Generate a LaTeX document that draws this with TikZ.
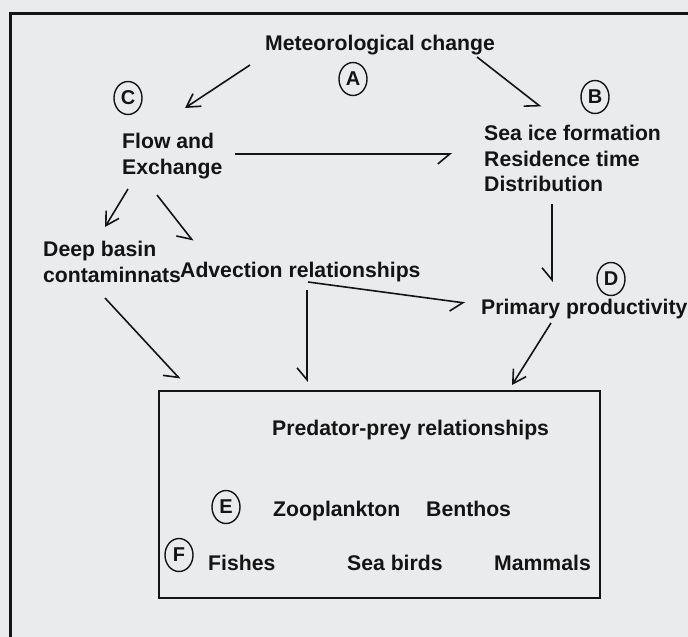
\documentclass[tikz,border=0pt]{standalone}
\usepackage{fontspec}
\setmainfont{Liberation Sans}
\usetikzlibrary{arrows.meta,shapes.geometric}
\definecolor{scan}{RGB}{234,235,237}
\definecolor{ink}{RGB}{20,20,20}

\begin{document}
\begin{tikzpicture}[x=1pt,y=-1pt,
  lbl/.style={font=\fontsize{21.2}{25.5}\selectfont\bfseries,text=ink,inner sep=0pt,align=left},
  tag/.style={draw=ink,line width=1.4pt,ellipse,minimum width=28pt,minimum height=33pt,inner sep=0pt,font=\fontsize{20}{20}\selectfont\bfseries,text=ink},
  link/.style={draw=ink,line width=1.6pt,-{Straight Barb[right,length=12pt,width=20pt]}},
  vlink/.style={draw=ink,line width=1.6pt,-{Straight Barb[length=13pt,width=15pt]}}]
\useasboundingbox (0,0) rectangle (688,637);
\fill[scan] (0,0) rectangle (688,637);
\draw[ink,line width=2.5pt] (688,13.5) -- (10.5,13.5) -- (10.5,637);

\node[lbl,anchor=base west] (met) at (265,50) {Meteorological change};
\node[tag] (tagA) at (353,79) {A};
\node[tag] (tagB) at (595,97) {B};
\node[tag] (tagC) at (128,98) {C};
\node[lbl,anchor=north west] (sea) at (484,125) {Sea ice formation\\Residence time\\Distribution};
\node[lbl,anchor=north west] (flow) at (122,133) {Flow and\\Exchange};
\node[lbl,anchor=north west] (deep) at (43,241) {Deep basin\\contaminnats};
\node[lbl,anchor=base west] (adv) at (180,277) {Advection relationships};
\node[tag] (tagD) at (611,279) {D};
\node[lbl,anchor=base west] (prim) at (481,314) {Primary productivity};

\node[draw=ink,line width=1.6pt,inner sep=0pt,minimum width=441pt,minimum height=207pt,anchor=north west] (web) at (158,390) {};
\node[lbl,anchor=base west] (pred) at (272,435) {Predator-prey relationships};
\node[tag] (tagE) at (226,507) {E};
\node[lbl,anchor=base west] (zoo) at (273,516) {Zooplankton};
\node[lbl,anchor=base west] (ben) at (426,516) {Benthos};
\node[tag] (tagF) at (179,555) {F};
\node[lbl,anchor=base west] (fish) at (208,570) {Fishes};
\node[lbl,anchor=base west] (bird) at (347,570) {Sea birds};
\node[lbl,anchor=base west] (mam) at (494,570) {Mammals};

\draw[vlink] ([shift={(-15,15)}]met.base west) -- ([shift={(63,-25)}]flow.north west);
\draw[link] ([shift={(212,7)}]met.base west) -- ([shift={(57,-18)}]sea.north west);
\draw[link] ([shift={(113,21)}]flow.north west) -- ([shift={(-32,29)}]sea.north west);
\draw[link] ([shift={(68,79)}]sea.north west) -- ([shift={(71,-32)}]prim.base west);
\draw[vlink] ([shift={(6,56)}]flow.north west) -- ([shift={(62,-14)}]deep.north west);
\draw[link] ([shift={(35,62)}]flow.north west) -- ([shift={(13,-36)}]adv.base west);
\draw[link] ([shift={(62,57)}]deep.north west) -- ([shift={(22,-11)}]web.north west);
\draw[link] ([shift={(127,13)}]adv.base west) -- ([shift={(149,-8)}]web.north west);
\draw[link] ([shift={(128,5)}]adv.base west) -- ([shift={(-16,-11)}]prim.base west);
\draw[vlink] ([shift={(70,9)}]prim.base west) -- ([shift={(354,-5)}]web.north west);
\end{tikzpicture}
\end{document}
